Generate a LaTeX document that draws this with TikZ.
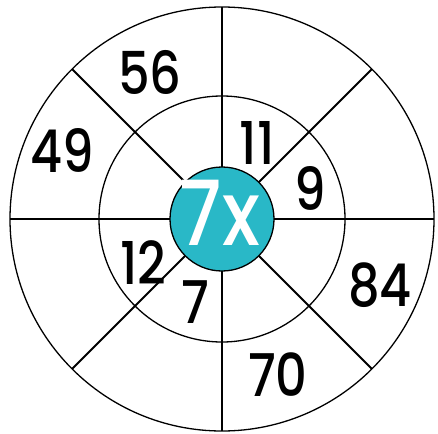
\documentclass[tikz,border=0pt]{standalone}
\usepackage{graphicx}
\usepackage{fontspec}
\setmainfont{Poppins}[UprightFont=* Medium]
\definecolor{tealc}{RGB}{41,184,199}
\newcommand\narrowtxt[1]{\scalebox{0.84}[1]{#1}}
\begin{document}
\begin{tikzpicture}[x=1pt,y=-1pt,
  ring/.style={draw=black,line width=1.3pt},
  spoke/.style={draw=black,line width=1.8pt},
  num/.style={font=\fontsize{59}{59}\selectfont,inner sep=0pt}]
\useasboundingbox (0,0) rectangle (438,433);
\coordinate (o) at (222,219);
\draw[ring] (o) circle[radius=212pt];
\draw[ring] (o) circle[radius=123pt];
\coordinate (t) at (222,7);
\coordinate (b) at (222,431);
\coordinate (l) at (10,219);
\coordinate (r) at (434,219);
\draw[spoke] (t) -- (b);
\draw[spoke] (l) -- (r);
\foreach \a in {45,135,225,315}{
  \draw[spoke] (o) -- ++(\a:212pt);
}
\node[circle,fill=tealc,draw=black,line width=1.3pt,minimum size=104pt,inner sep=0pt] (c) at (o) {};
\node[num,text=white,font=\fontsize{90}{90}\selectfont] (cx) at (220,213) {\narrowtxt{7x}};
\node[num] (n56) at (150,72) {\narrowtxt{56}};
\node[num] (n49) at (62,150) {\narrowtxt{49}};
\node[num] (n11) at (257,143) {\narrowtxt{11}};
\node[num] (n9) at (310,188) {\narrowtxt{9}};
\node[num] (n12) at (143,263) {\narrowtxt{12}};
\node[num] (n7) at (195,302) {\narrowtxt{7}};
\node[num] (n84) at (380,285) {\narrowtxt{84}};
\node[num] (n70) at (278,375) {\narrowtxt{70}};
\end{tikzpicture}
\end{document}
